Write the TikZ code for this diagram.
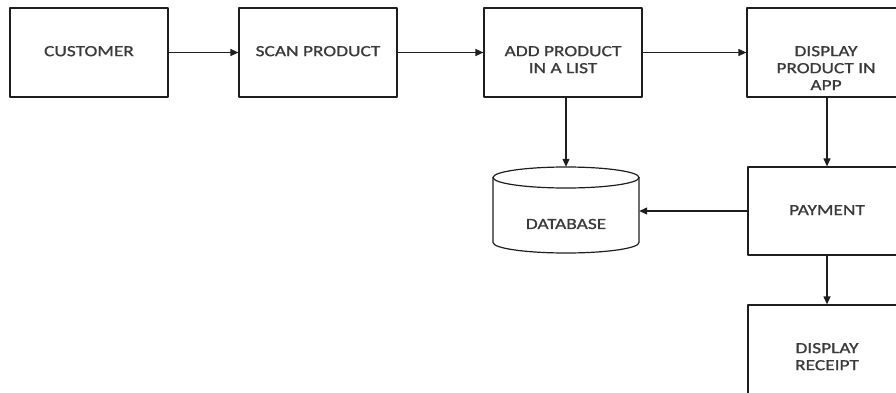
\documentclass[tikz,border=0pt]{standalone}
\usepackage{fontspec}
\setmainfont{Carlito}[FakeStretch=1.25, FakeBold=1]
\usetikzlibrary{arrows.meta}

\definecolor{inkline}{HTML}{1E1E1E}
\definecolor{inktext}{HTML}{3A3A3A}

\tikzset{
	stepbox/.style={draw=inkline, line width=1.2pt, minimum width=158pt, minimum height=89pt, inner sep=0pt},
	boxtext/.style={anchor=north, inner sep=0pt, yshift=-38.5pt, align=center, text=inktext,
		font=\fontsize{15.5}{17}\selectfont},
	dbline/.style={draw=inkline, line width=1.2pt},
	flow/.style={draw=inkline, line width=1.2pt, -{Triangle[length=8pt,width=7pt]}}
}

\begin{document}
\begin{tikzpicture}[x=1pt, y=-1pt, line cap=round, line join=round]
	\useasboundingbox (0,0) rectangle (896,393);
	
	% Top row
	\node[stepbox, label={[boxtext]north:CUSTOMER}] (cust) at (89,52.5) {};
	\node[stepbox, label={[boxtext]north:SCAN PRODUCT}] (scan) at (318,52.5) {};
	\node[stepbox, label={[boxtext]north:ADD PRODUCT\\IN A LIST}] (add) at (563,52.5) {};
	\node[stepbox, label={[boxtext]north:DISPLAY\\PRODUCT IN\\APP}] (disp) at (826,52.5) {};
	
	% Right column
	\node[stepbox, minimum height=88pt, label={[boxtext]north:PAYMENT}] (pay) at (827,211) {};
	\node[stepbox, label={[boxtext]north:DISPLAY\\RECEIPT}] (rec) at (827,349.5) {};
	
	% Database drum
	\node[minimum width=146pt, minimum height=86pt, inner sep=0pt,
		label={[boxtext, anchor=center, yshift=38.5pt-14pt]center:DATABASE}] (db) at (566,210) {};
	\draw[dbline] (493,177.5) -- (493,242.5) arc[start angle=180, end angle=360, x radius=73pt, y radius=10.5pt]
		-- (639,177.5);
	\draw[dbline] (566,177.5) ellipse[x radius=73pt, y radius=10.5pt];
	
	\draw[flow] (cust) -- (scan);
	\draw[flow] (scan) -- (add);
	\draw[flow] (add) -- (disp);
	\draw[flow] (add.south -| db.north) -- (db.north);
	\draw[flow] (disp.south -| pay.north) -- (pay.north);
	\draw[flow] (pay.west) -- (pay.west -| db.east);
	\draw[flow] (pay) -- (rec);
	
\end{tikzpicture}
\end{document}
